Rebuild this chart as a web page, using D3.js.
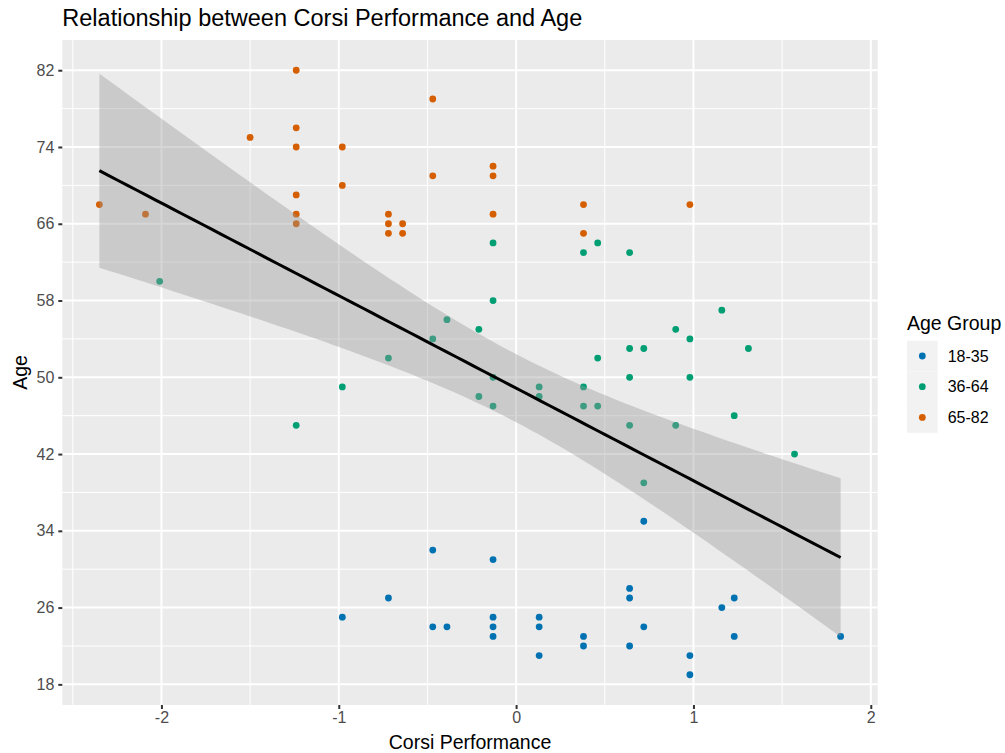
<!DOCTYPE html>
<html>
<head>
<meta charset="utf-8">
<script src="https://cdn.jsdelivr.net/npm/d3@7"></script>
<style>
    body { margin: 0; background: #ffffff; }
    svg { display: block; font-family: "Liberation Sans", Arial, sans-serif; }
</style>
</head>
<body>
<div id="chart"></div>
<script>
// Corsi performance vs age scatter with linear fit

// age groups
const groups = ['18-35', '36-64', '65-82'];
const groupColors = ['#0072B2', '#009E73', '#D55E00'];

// 18-35
const corsiYoung = [-0.98, -0.72, -0.47, -0.47, -0.39, -0.13, -0.13, -0.13, -0.13, 0.13, 0.13, 0.13,
    0.38, 0.38, 0.64, 0.64, 0.64, 0.72, 0.72, 0.98, 0.98, 1.16, 1.23, 1.23, 1.83];
const ageYoung = [25, 27, 32, 24, 24, 31, 25, 24, 23, 25, 24, 21,
    23, 22, 28, 27, 22, 35, 24, 21, 19, 26, 27, 23, 23];

// 36-64
const corsiMiddle = [-2.01, -1.24, -0.98, -0.72, -0.47, -0.39, -0.21, -0.21, -0.13, -0.13, -0.13, -0.13,
    0.13, 0.13, 0.38, 0.38, 0.38, 0.46, 0.46, 0.46, 0.64, 0.64, 0.64, 0.64, 0.72, 0.72,
    0.90, 0.90, 0.98, 0.98, 1.16, 1.23, 1.31, 1.57];
const ageMiddle = [60, 45, 49, 52, 54, 56, 55, 48, 64, 58, 50, 47,
    49, 48, 63, 49, 47, 64, 52, 47, 63, 53, 50, 45, 53, 39,
    55, 45, 54, 50, 57, 46, 53, 42];

// 65-82
const corsiOld = [-2.35, -2.09, -1.50, -1.24, -1.24, -1.24, -1.24, -1.24, -1.24, -0.98, -0.98,
    -0.72, -0.72, -0.72, -0.64, -0.64, -0.47, -0.47, -0.13, -0.13, -0.13, 0.38, 0.38, 0.98];
const ageOld = [68, 67, 75, 82, 76, 74, 69, 67, 66, 74, 70,
    67, 66, 65, 66, 65, 79, 71, 72, 71, 67, 68, 65, 68];

// axis breaks
const xBreaks = [-2, -1, 0, 1, 2];
const xMinor = [-2.5, -1.5, -0.5, 0.5, 1.5];
const yBreaks = [18, 26, 34, 42, 50, 58, 66, 74, 82];
const yMinor = [22, 30, 38, 46, 54, 62, 70, 78];

// t quantile (0.975, df = 81) for the 95% band
const tCrit = 1.9897;

const width = 1005, height = 753;
const panel = { left: 62.3, right: 877.7, top: 40, bottom: 705 };

function buildPoints() {
    const sets = [[corsiYoung, ageYoung], [corsiMiddle, ageMiddle], [corsiOld, ageOld]];
    const pts = [];
    sets.forEach((s, g) => {
        s[0].forEach((c, i) => pts.push({ x: c, y: s[1][i], group: g }));
    });
    return pts;
}

// simple least squares fit + standard error of the mean prediction
function linearFit(pts, xmin, xmax) {
    const n = pts.length;
    const xbar = d3.mean(pts, d => d.x);
    const ybar = d3.mean(pts, d => d.y);
    const sxx = d3.sum(pts, d => (d.x - xbar) ** 2);
    const sxy = d3.sum(pts, d => (d.x - xbar) * (d.y - ybar));
    const slope = sxy / sxx;
    const intercept = ybar - slope * xbar;
    const sse = d3.sum(pts, d => (d.y - (intercept + slope * d.x)) ** 2);
    const s = Math.sqrt(sse / (n - 2));
    const out = [];
    for (let i = 0; i < 80; i++) {
        const x = xmin + (xmax - xmin) * i / 79;
        const fit = intercept + slope * x;
        const se = s * Math.sqrt(1 / n + (x - xbar) ** 2 / sxx);
        out.push({ x: x, fit: fit, lo: fit - tCrit * se, hi: fit + tCrit * se });
    }
    return out;
}

function expand(ext) {
    const r = ext[1] - ext[0];
    return [ext[0] - 0.05 * r, ext[1] + 0.05 * r];
}

function drawChart() {
    const pts = buildPoints();
    const xExt = d3.extent(pts, d => d.x);
    const yExt = d3.extent(pts, d => d.y);

    const x = d3.scaleLinear().domain(expand(xExt)).range([panel.left, panel.right]);
    const y = d3.scaleLinear().domain(expand(yExt)).range([panel.bottom, panel.top]);

    const svg = d3.select('#chart').append('svg')
        .attr('width', width)
        .attr('height', height);

    svg.append('rect').attr('width', width).attr('height', height).attr('fill', '#ffffff');

    // panel background
    svg.append('rect')
        .attr('x', panel.left).attr('y', panel.top)
        .attr('width', panel.right - panel.left)
        .attr('height', panel.bottom - panel.top)
        .attr('fill', '#EBEBEB');

    // grid
    const grid = svg.append('g');
    grid.selectAll('.xminor').data(xMinor).enter().append('line')
        .attr('x1', d => x(d)).attr('x2', d => x(d))
        .attr('y1', panel.top).attr('y2', panel.bottom)
        .attr('stroke', '#ffffff').attr('stroke-width', 1);
    grid.selectAll('.yminor').data(yMinor).enter().append('line')
        .attr('y1', d => y(d)).attr('y2', d => y(d))
        .attr('x1', panel.left).attr('x2', panel.right)
        .attr('stroke', '#ffffff').attr('stroke-width', 1);
    grid.selectAll('.xmajor').data(xBreaks).enter().append('line')
        .attr('x1', d => x(d)).attr('x2', d => x(d))
        .attr('y1', panel.top).attr('y2', panel.bottom)
        .attr('stroke', '#ffffff').attr('stroke-width', 2);
    grid.selectAll('.ymajor').data(yBreaks).enter().append('line')
        .attr('y1', d => y(d)).attr('y2', d => y(d))
        .attr('x1', panel.left).attr('x2', panel.right)
        .attr('stroke', '#ffffff').attr('stroke-width', 2);

    // points
    svg.append('g').selectAll('circle')
        .data(pts)
        .enter()
        .append('circle')
        .attr('cx', d => x(d.x))
        .attr('cy', d => y(d.y))
        .attr('r', 3.4)
        .attr('fill', d => groupColors[d.group]);

    // fit line and band (drawn over points like geom_smooth)
    const fit = linearFit(pts, xExt[0], xExt[1]);
    svg.append('path')
        .datum(fit)
        .attr('d', d3.area().x(d => x(d.x)).y0(d => y(d.lo)).y1(d => y(d.hi)))
        .attr('fill', '#999999')
        .attr('fill-opacity', 0.4);
    svg.append('path')
        .datum(fit)
        .attr('d', d3.line().x(d => x(d.x)).y(d => y(d.fit)))
        .attr('fill', 'none')
        .attr('stroke', '#000000')
        .attr('stroke-width', 3);

    // axes
    const xAxis = svg.append('g')
        .attr('transform', `translate(0,${panel.bottom})`)
        .call(d3.axisBottom(x).tickValues(xBreaks).tickSize(4).tickPadding(3).tickFormat(d3.format('d')));
    const yAxis = svg.append('g')
        .attr('transform', `translate(${panel.left},0)`)
        .call(d3.axisLeft(y).tickValues(yBreaks).tickSize(4).tickPadding(4).tickFormat(d3.format('d')));
    [xAxis, yAxis].forEach(a => {
        a.select('.domain').remove();
        a.selectAll('.tick line').attr('stroke', '#333333').attr('stroke-width', 2);
        a.selectAll('.tick text')
            .attr('fill', '#4D4D4D')
            .style('font-size', '16px')
            .style('font-family', '"Liberation Sans", Arial, sans-serif');
    });
    xAxis.selectAll('.tick text').text(d => d < 0 ? '-' + Math.abs(d) : d);

    // titles
    svg.append('text')
        .attr('x', panel.left).attr('y', 26)
        .attr('font-size', '23.5px')
        .attr('fill', '#000000')
        .text('Relationship between Corsi Performance and Age');
    svg.append('text')
        .attr('x', (panel.left + panel.right) / 2).attr('y', 749)
        .attr('text-anchor', 'middle')
        .attr('font-size', '19.5px')
        .text('Corsi Performance');
    svg.append('text')
        .attr('transform', `translate(27,${(panel.top + panel.bottom) / 2}) rotate(-90)`)
        .attr('text-anchor', 'middle')
        .attr('font-size', '19.5px')
        .text('Age');

    // legend
    const legend = svg.append('g').attr('transform', 'translate(907,0)');
    legend.append('text')
        .attr('x', 0).attr('y', 330)
        .attr('font-size', '19.5px')
        .text('Age Group');
    const keys = legend.selectAll('.key').data(groups).enter().append('g')
        .attr('transform', (d, i) => `translate(0,${340.7 + i * 30.7})`);
    keys.append('rect')
        .attr('width', 30.7).attr('height', 30.7)
        .attr('fill', '#F2F2F2');
    keys.append('circle')
        .attr('cx', 15.3).attr('cy', 15.3).attr('r', 3.4)
        .attr('fill', (d, i) => groupColors[i]);
    keys.append('text')
        .attr('x', 40.7).attr('y', 15.3)
        .attr('dy', '0.35em')
        .attr('font-size', '16px')
        .text(d => d);
}

document.addEventListener('DOMContentLoaded', drawChart);
</script>
</body>
</html>
